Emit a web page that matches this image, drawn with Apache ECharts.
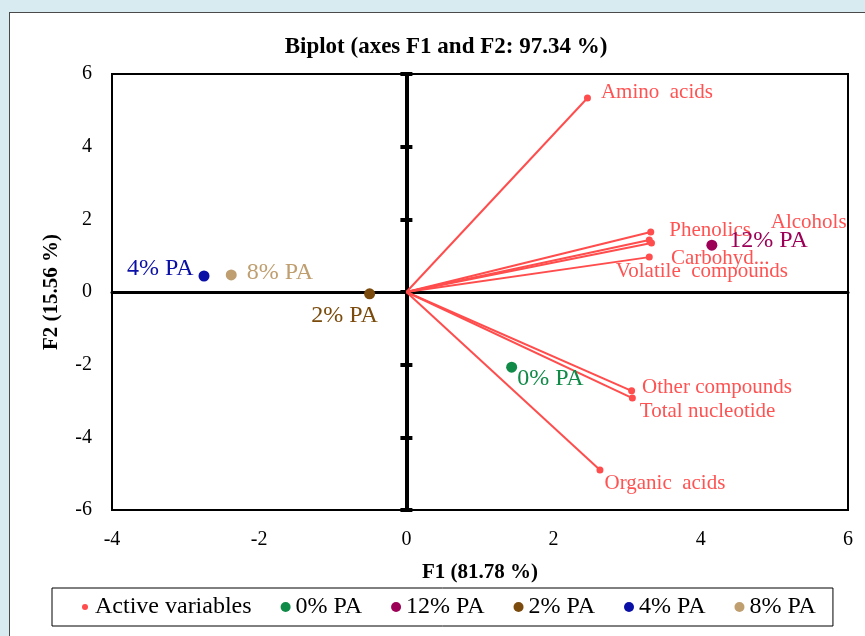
<!DOCTYPE html>
<html>
<head>
<meta charset="utf-8">
<script src="https://cdn.jsdelivr.net/npm/echarts@6/dist/echarts.min.js"></script>
<style>
  html, body { margin: 0; padding: 0; background: #d7ebf1; }
  #panel { position: absolute; left: 9px; top: 12px; width: 870px; height: 640px; background: #fff; border: 1px solid #4a4a4a; }
  #chart { position: absolute; left: 0; top: 0; width: 865px; height: 636px; }
</style>
</head>
<body>
<div id="panel"></div>
<div id="chart"></div>
<script>
// Observations (treatments) in the F1/F2 plane
const obsNames = ['0% PA', '12% PA', '2% PA', '4% PA', '8% PA'];
const obsF1 = [1.43, 4.15, -0.50, -2.75, -2.38];
const obsF2 = [-2.07, 1.29, -0.05, 0.44, 0.47];
const obsColors = ['#0f8a47', '#9c0057', '#7a4b0c', '#0a0fa6', '#bf9f70'];

// Active variables (loadings, scaled)
const varNames = ['Amino  acids', 'Phenolics', 'Alcohols', 'Carbohyd...', 'Volatile  compounds',
                  'Other compounds', 'Total nucleotide', 'Organic  acids'];
const varF1 = [2.46, 3.32, 3.30, 3.33, 3.30, 3.06, 3.07, 2.63];
const varF2 = [5.34, 1.65, 1.43, 1.35, 0.96, -2.72, -2.92, -4.90];

// Axis ranges
const xRange = [-4, 6];
const yRange = [-6, 6];
const tickStep = 2;

// Label placement (pixel offsets)
const varLabelOffsets = [[10, -5], [15, -2], [118, -18], [16, 16], [-37, 14], [7, -3], [4, 13], [1, 13]];
const obsLabelStyle = [
  { position: 'right', distance: 0, offset: [0, 11] },
  { position: 'right', distance: 12, offset: [0, -4] },
  { position: 'inside', distance: 0, offset: [-25, 22] },
  { position: 'left', distance: 5, offset: [0, -7] },
  { position: 'right', distance: 10, offset: [0, -2] }
];

const FONT = "'Liberation Serif', 'Times New Roman', serif";
const RED = '#ff4d4d';

const chart = echarts.init(document.getElementById('chart'), null, { renderer: 'canvas' });

const baseAxis = (range) => ({ type: 'value', min: range[0], max: range[1], interval: tickStep, splitLine: { show: false } });

const series = [
  {
    name: 'vectors',
    type: 'custom',
    data: varF1.map((x, i) => [x, varF2[i]]),
    renderItem: function (params, api) {
      const p0 = api.coord([0, 0]);
      const p1 = api.coord([api.value(0), api.value(1)]);
      return { type: 'line', shape: { x1: p0[0], y1: p0[1], x2: p1[0], y2: p1[1] },
               style: { stroke: RED, lineWidth: 2 } };
    },
    silent: true,
    z: 3
  },
  {
    name: 'Active variables',
    type: 'scatter',
    symbolSize: 7,
    itemStyle: { color: RED, opacity: 1 },
    data: varNames.map((n, i) => ({
      name: n,
      value: [varF1[i], varF2[i]],
      label: { offset: varLabelOffsets[i] }
    })),
    label: {
      show: true, position: 'right', distance: 0,
      formatter: '{b}', color: '#ff5252', fontFamily: FONT, fontSize: 21
    },
    z: 4
  }
];

obsNames.forEach((n, i) => {
  series.push({
    name: n,
    type: 'scatter',
    symbolSize: 11,
    itemStyle: { color: obsColors[i], opacity: 1 },
    data: [{ name: n, value: [obsF1[i], obsF2[i]] }],
    label: Object.assign({
      show: true, formatter: '{b}', color: obsColors[i], fontFamily: FONT, fontSize: 24
    }, obsLabelStyle[i]),
    z: 5
  });
});

chart.setOption({
  backgroundColor: 'transparent',
  animation: false,
  title: {
    text: 'Biplot (axes F1 and F2: 97.34 %)',
    left: 441, top: 31, textAlign: 'center',
    textStyle: { fontFamily: FONT, fontSize: 23, fontWeight: 'bold', color: '#000' }
  },
  grid: { left: 112, top: 74, right: 17, bottom: 126, show: true, borderColor: '#000', borderWidth: 2, backgroundColor: 'transparent' },
  legend: {
    data: [
      { name: 'Active variables', icon: 'path://M0,0L0,0M20,20L20,20M10,4A6,6,0,1,1,10,16A6,6,0,1,1,10,4Z' },
      ...obsNames.map(n => ({ name: n, icon: 'circle' }))
    ],
    left: 52, top: 588,
    itemWidth: 10, itemHeight: 10, itemGap: 29,
    padding: [7, 17, 7, 28],
    borderColor: '#000', borderWidth: 1,
    textStyle: { fontFamily: FONT, fontSize: 24, color: '#000' }
  },
  xAxis: [
    Object.assign(baseAxis(xRange), {
      position: 'bottom',
      axisLine: { show: false, onZero: false },
      axisTick: { show: false },
      axisLabel: { margin: 20, fontFamily: FONT, fontSize: 20, color: '#000' },
      name: 'F1 (81.78 %)', nameLocation: 'middle', nameGap: 52,
      nameTextStyle: { fontFamily: FONT, fontSize: 21, fontWeight: 'bold', color: '#000' }
    }),
    Object.assign(baseAxis(xRange), {
      position: 'top',
      axisLine: { show: true, onZero: true, onZeroAxisIndex: 0, lineStyle: { color: '#000', width: 3 } },
      axisTick: { show: false },
      axisLabel: { show: false }
    })
  ],
  yAxis: [
    Object.assign(baseAxis(yRange), {
      position: 'left',
      axisLine: { show: false, onZero: false },
      axisTick: { show: false },
      axisLabel: { margin: 20, fontFamily: FONT, fontSize: 20, color: '#000' },
      name: 'F2 (15.56 %)', nameLocation: 'middle', nameGap: 50, nameRotate: 90,
      nameTextStyle: { fontFamily: FONT, fontSize: 21, fontWeight: 'bold', color: '#000' }
    }),
    Object.assign(baseAxis(yRange), {
      position: 'left',
      axisLine: { show: true, onZero: true, onZeroAxisIndex: 0, lineStyle: { color: '#000', width: 4 } },
      axisTick: { show: true, length: 6, lineStyle: { color: '#000', width: 4 } },
      axisLabel: { show: false }
    }),
    Object.assign(baseAxis(yRange), {
      position: 'right',
      axisLine: { show: true, onZero: true, onZeroAxisIndex: 0, lineStyle: { color: '#000', width: 4 } },
      axisTick: { show: true, length: 6, lineStyle: { color: '#000', width: 4 } },
      axisLabel: { show: false }
    })
  ],
  series: series
});
</script>
</body>
</html>
